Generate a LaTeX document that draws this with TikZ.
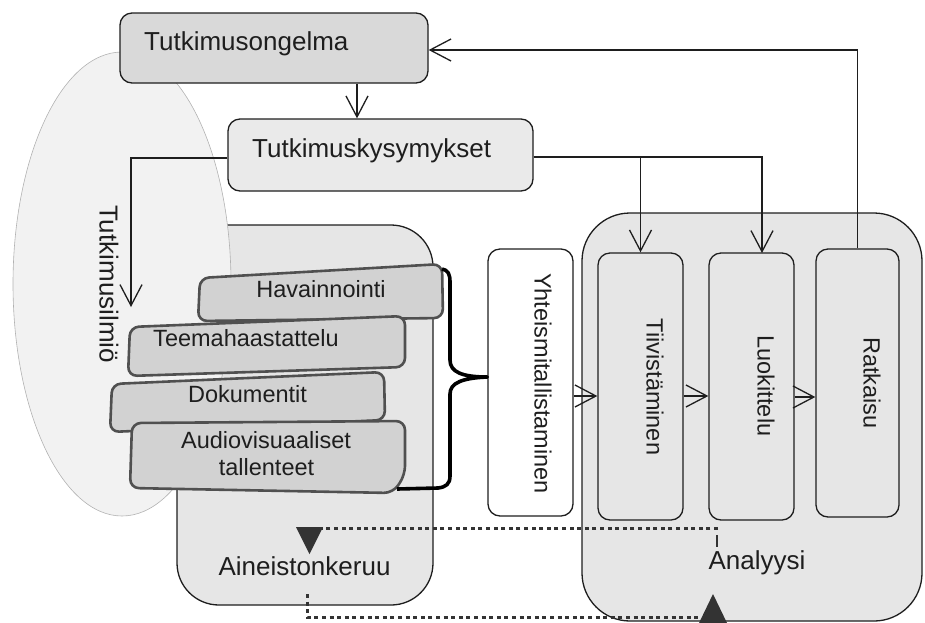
\documentclass[tikz,border=0pt]{standalone}
\usepackage{fontspec}
\setmainfont{Liberation Sans}
\usetikzlibrary{arrows.meta,shapes.geometric}
\definecolor{contfill}{HTML}{E6E6E6}
\definecolor{ellfill}{HTML}{F2F2F2}
\definecolor{onfill}{HTML}{D9D9D9}
\definecolor{kyfill}{HTML}{EAEAEA}
\definecolor{docfill}{HTML}{D2D2D2}
\definecolor{docline}{HTML}{505050}
\definecolor{ink}{HTML}{1E1E1E}
\begin{document}
\begin{tikzpicture}[x=1pt,y=-1pt,
  box/.style={draw=ink, line width=1.3pt, rounded corners=12pt, inner sep=0pt},
  barb/.style={line width=1.3pt, draw=ink, -{Straight Barb[length=21pt,width=22pt,line width=1.3pt]}},
  big/.style={font=\fontsize{26}{30}\selectfont, text=ink, inner sep=0pt},
  small/.style={font=\fontsize{23.5}{27}\selectfont, text=ink, inner sep=0pt},
  doc/.style={draw=docline, fill=docfill, line width=2.6pt, rounded corners=9pt},
  dotl/.style={draw=black!80, line width=3pt, dash pattern=on 4pt off 3.6pt}
]
\useasboundingbox (0,0) rectangle (925,622);

% containers
\node[box, fill=contfill, rounded corners=42pt, minimum width=256pt, minimum height=380pt] (keruu) at (305,415) {};
\node[box, fill=contfill, rounded corners=48pt, minimum width=340pt, minimum height=408pt] (analyysi) at (752,417) {};

% ellipse
\node[ellipse, draw=black!30, line width=0.6pt, fill=ellfill, minimum width=218pt, minimum height=464pt, inner sep=0pt] (ilmio) at (122,284) {};
\node[big, rotate=-90] (ilmiolabel) at (109,284) {Tutkimusilmiö};

% top boxes
\node[box, fill=onfill, minimum width=308pt, minimum height=70pt] (ongelma) at (274,48) {};
\node[big, anchor=base west] (ongelmatext) at (144,50) {Tutkimusongelma};
\node[box, fill=kyfill, minimum width=305pt, minimum height=72pt] (kysym) at (380.5,155) {};
\node[big, anchor=base west] (kysymtext) at (252,157) {Tutkimuskysymykset};

% documents
\draw[doc] (200,278) -- (442,264) -- (443,318) -- (198,321) -- cycle;
\node[small, anchor=base] (hav) at (321,297) {Havainnointi};
\draw[doc] (130,327) -- (405,316) -- (405,367) -- (128,376) -- cycle;
\node[small, anchor=base] (teema) at (246,346) {Teemahaastattelu};
\draw[doc] (112,384) -- (384,372) -- (385,420) -- (110,432) -- cycle;
\node[small, anchor=base] (dok) at (247.5,402) {Dokumentit};
\draw[doc] (132,423) -- (405,421) -- (405,475) -- (393,493) -- (130,488) -- cycle;
\node[small, anchor=base, align=center] (audio) at (266,448) {Audiovisuaaliset};
\node[small, anchor=base] (audio2) at (266.5,475) {tallenteet};

% analysis boxes
\node[box, fill=white, minimum width=85pt, minimum height=267pt] (yhteis) at (530.5,382.5) {};
\node[small, rotate=-90] at (543,383.5) {Yhteismitallistaminen};
\node[box, fill=contfill, minimum width=85pt, minimum height=267pt] (tiiv) at (640.5,386.5) {};
\node[small, rotate=-90] at (655,387) {Tiivistäminen};
\node[box, fill=contfill, minimum width=85pt, minimum height=267pt] (luok) at (751.5,386.5) {};
\node[small, rotate=-90] at (766,386) {Luokittelu};
\node[box, fill=contfill, minimum width=83pt, minimum height=268pt] (ratk) at (857.5,383) {};
\node[small, rotate=-90] at (872,383) {Ratkaisu};

% labels
\node[big, anchor=base] (klabel) at (304.5,575) {Aineistonkeruu};
\node[big, anchor=base] (alabel) at (757,569) {Analyysi};

% brace
\coordinate (bt) at (442,269);
\coordinate (bb) at (397,489);
\draw[line width=3.6pt, line join=round] (bt) .. controls (448,270) and (450,274) .. (450,282) -- (450,360)
  .. controls (450,372) and (462,377) .. ([yshift=5.5pt]yhteis.west)
  .. controls (462,378) and (450,383) .. (450,394) -- (450,476)
  .. controls (450,484) and (446,487) .. (438,488) -- (bb);

% arrows
\draw[barb] ([xshift=83pt]ongelma.south) -- ([xshift=-23.5pt]kysym.north);
\coordinate (ilmioarrow) at (131,307);
\draw[barb] ([yshift=-3pt]kysym.west) -| (ilmioarrow);
\coordinate (luoktop) at (762,253);
\draw[line width=1.3pt, draw=ink] ([yshift=-2pt]kysym.east) -- (tiiv.north |- {0,157});
\draw[barb] ([yshift=-2pt]kysym.east) -| (luoktop);
\draw[barb] (tiiv.north |- {0,157}) -- (tiiv.north);
\draw[barb] (ratk.north) |- ([yshift=-2pt]ongelma.east);
\coordinate (harrow) at (0,396);
\draw[barb] (yhteis.east |- harrow) -- (tiiv.west |- harrow);
\draw[barb] (tiiv.east |- harrow) -- (luok.west |- harrow);
\draw[barb] ([yshift=-1pt]luok.east |- harrow) -- ([yshift=-1pt]ratk.west |- harrow);

% dotted feedback lines
\draw[line width=2.6pt, draw=black!80] (717,535) -- (717,547);
\draw[dotl] (718,528) -- (321,528);
\fill[black!80] (296,527) -- (323,527) -- (309.5,554) -- cycle;
\draw[dotl] (307,594) |- (700,617);
\fill[black!80] (699,623) -- (727,623) -- (713,594) -- cycle;
\end{tikzpicture}
\end{document}
